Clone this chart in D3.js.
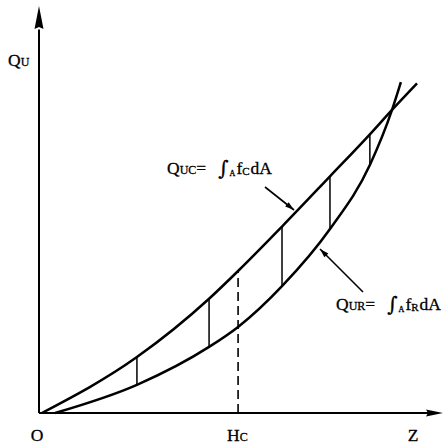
<!DOCTYPE html>
<html>
<head>
<meta charset="utf-8">
<script src="https://cdn.jsdelivr.net/npm/d3@7"></script>
<style>
  html, body { margin: 0; padding: 0; background: #fff; }
  svg { display: block; }
  text { font-family: "Liberation Serif", "DejaVu Serif", serif; fill: #000; stroke: #000; stroke-width: 0.3; }
</style>
</head>
<body>
<svg id="chart" width="444" height="445"></svg>
<script>
// Capacity curve Q_UC (upper) and demand curve Q_UR (lower), in relative units of Z and Q
const ucZ = [0.7, 24.3, 42.2, 49.4, 60.3, 72.2, 82.1, 87.6, 93.8];
const ucQ = [0, 13.7, 28.0, 34.8, 45.7, 58.0, 68.3, 74.3, 80.8];
const urZ = [4.0, 24.3, 42.2, 49.4, 60.3, 72.2, 82.1, 87.6, 89.8];
const urQ = [0, 6.9, 16.2, 21.1, 31.1, 45.1, 60.8, 74.3, 81.1];
// Vertical strips between the curves (indices into the curve arrays)
const stripIdx = [1, 2, 4, 5, 6];
const hcIdx = 3;   // Z = Hc, drawn dashed
const axisLabels = ["O", "Hc", "Z"];

const svg = d3.select("#chart");
const x = d3.scaleLinear().domain([0, 100]).range([39, 442]);
const y = d3.scaleLinear().domain([0, 100]).range([413, 5]);

const line = d3.line().x(d => x(d[0])).y(d => y(d[1])).curve(d3.curveMonotoneX);
const uc = ucZ.map((z, i) => [z, ucQ[i]]);
const ur = urZ.map((z, i) => [z, urQ[i]]);

// Axes with slender filled arrowheads
const g = svg.append("g");
g.append("line").attr("x1", x(0)).attr("y1", y(0)).attr("x2", x(0)).attr("y2", y(94))
  .attr("stroke", "#000").attr("stroke-width", 2);
g.append("line").attr("x1", x(0)).attr("y1", y(0)).attr("x2", x(97)).attr("y2", y(0))
  .attr("stroke", "#000").attr("stroke-width", 2);
g.append("path")
  .attr("d", `M${x(0)},${y(100) + 1} L${x(0) + 4.5},${y(100) + 24} L${x(0)},${y(100) + 22} L${x(0) - 4.5},${y(100) + 24} Z`)
  .attr("fill", "#000");
g.append("path")
  .attr("d", `M${x(100) + 1},${y(0)} L${x(100) - 16},${y(0) - 3.5} L${x(100) - 14},${y(0)} L${x(100) - 16},${y(0) + 3.5} Z`)
  .attr("fill", "#000");

// Curves
svg.append("path").attr("d", line(uc)).attr("fill", "none")
  .attr("stroke", "#000").attr("stroke-width", 2.5);
svg.append("path").attr("d", line(ur)).attr("fill", "none")
  .attr("stroke", "#000").attr("stroke-width", 2.5);

// Strips
svg.selectAll("line.strip").data(stripIdx).enter().append("line")
  .attr("class", "strip")
  .attr("x1", i => x(ucZ[i])).attr("x2", i => x(urZ[i]))
  .attr("y1", i => y(ucQ[i])).attr("y2", i => y(urQ[i]))
  .attr("stroke", "#000").attr("stroke-width", 1.5);

// Hc marker: dashed from the axis up to Q_UC
svg.append("line")
  .attr("x1", x(ucZ[hcIdx])).attr("x2", x(ucZ[hcIdx]))
  .attr("y1", y(0)).attr("y2", y(ucQ[hcIdx]))
  .attr("stroke", "#000").attr("stroke-width", 1.6)
  .attr("stroke-dasharray", "9,5");

// Leader arrows from the formulas to the curves
function leader(x1, y1, x2, y2) {
  svg.append("line").attr("x1", x1).attr("y1", y1).attr("x2", x2).attr("y2", y2)
    .attr("stroke", "#000").attr("stroke-width", 1.6);
  const a = Math.atan2(y2 - y1, x2 - x1);
  const L = 9, W = 2.8;
  const bx = x2 - L * Math.cos(a), by = y2 - L * Math.sin(a);
  svg.append("path")
    .attr("d", `M${x2},${y2} L${bx - W * Math.sin(a)},${by + W * Math.cos(a)} L${bx + W * Math.sin(a)},${by - W * Math.cos(a)} Z`)
    .attr("fill", "#000");
}
leader(265, 187, 294, 210);
leader(363, 292, 320, 249);

// Formula labels
function formula(tx, ty, sub1, sub2) {
  const t = svg.append("text").attr("x", tx).attr("y", ty).attr("font-size", 17.5);
  t.append("tspan").text("Q");
  t.append("tspan").attr("font-size", 12).text(sub1);
  t.append("tspan").text("=");
  t.append("tspan").attr("font-size", 20).attr("dx", 12).attr("dy", 1).attr("font-family", "DejaVu Serif").text("∫");
  t.append("tspan").attr("font-size", 8).attr("dx", 1).attr("dy", 1).text("A");
  t.append("tspan").attr("dy", -2).attr("dx", 1).text("f");
  t.append("tspan").attr("font-size", 11).attr("dy", 1).text(sub2);
  t.append("tspan").attr("dy", -1).attr("dx", 1).text("dA");
}
formula(167, 174, "UC", "C");
formula(336, 310, "UR", "R");

// Axis titles
const qu = svg.append("text").attr("x", 8).attr("y", 66).attr("font-size", 17.5);
qu.append("tspan").text("Q");
qu.append("tspan").attr("font-size", 12).text("U");

svg.append("text").attr("x", 37).attr("y", 441).attr("text-anchor", "middle")
  .attr("font-size", 17.5).text(axisLabels[0]);
const hc = svg.append("text").attr("x", x(ucZ[hcIdx]) - 11).attr("y", 441).attr("font-size", 17.5);
hc.append("tspan").text("H");
hc.append("tspan").attr("font-size", 12).text("C");
svg.append("text").attr("x", 413).attr("y", 441).attr("text-anchor", "middle")
  .attr("font-size", 17.5).text(axisLabels[2]);
</script>
</body>
</html>
